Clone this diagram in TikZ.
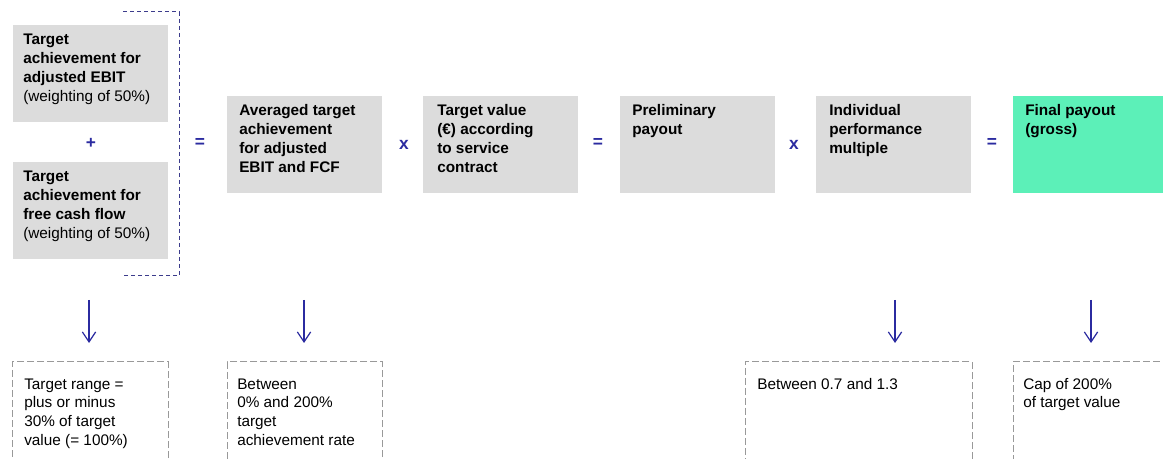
\documentclass[tikz,border=0pt]{standalone}
\usepackage{fontspec}
\setmainfont{Liberation Sans}
\usetikzlibrary{arrows.meta}
\definecolor{boxgray}{HTML}{DCDCDC}
\definecolor{finalgreen}{HTML}{5CF0B8}
\definecolor{opblue}{HTML}{2B2BA0}
\definecolor{dashgray}{HTML}{999999}
\definecolor{bracketblue}{HTML}{3C3C8C}
\begin{document}
\begin{tikzpicture}[x=0.75pt,y=-0.75pt,
  gbox/.style={fill=boxgray, draw=none, inner sep=0pt, outer sep=0pt, anchor=north west,
    minimum width=116.25pt, minimum height=72.75pt},
  fbox/.style={gbox, fill=finalgreen},
  dbox/.style={draw=dashgray, line width=0.75pt, dash pattern=on 5pt off 2.5pt, inner sep=0pt,
    outer sep=0pt, anchor=north west, minimum height=90pt},
  btext/.style={anchor=base west, inner sep=0pt, align=left, text=black,
    font=\fontsize{11.5}{14.25}\selectfont\bfseries},
  rtext/.style={anchor=base west, inner sep=0pt, align=left, text=black,
    font=\fontsize{11.5}{14}\selectfont},
  op/.style={text=opblue, inner sep=0pt, font=\fontsize{13}{15}\selectfont\bfseries},
  arr/.style={draw=opblue, line width=0.9pt, -{Straight Barb[length=7.5pt,width=10pt]}},
  bracket/.style={draw=bracketblue, line width=0.75pt, dash pattern=on 3pt off 2.25pt}
]
\useasboundingbox (0,0) rectangle (1163,459);
\clip (0,0) rectangle (1163,459);

% top row boxes
\node[gbox] (b1) at (13,25) {};
\node[gbox] (b2) at (13,162) {};
\node[gbox] (b3) at (227,96) {};
\node[gbox] (b4) at (423,96) {};
\node[gbox] (b5) at (620,96) {};
\node[gbox] (b6) at (816,96) {};
\node[fbox] (b7) at (1013,96) {};

% texts (anchor = baseline of the last line)
\node[btext] (t1) at (23,102) {Target\\achievement for\\adjusted EBIT\\{\mdseries (weighting of 50\%)}};
\node[btext] (t2) at (23,239) {Target\\achievement for\\free cash flow\\{\mdseries (weighting of 50\%)}};
\node[btext] (t3) at (239,173) {Averaged target\\achievement\\for adjusted\\EBIT and FCF};
\node[btext] (t4) at (437,173) {Target value\\(€) according\\to service\\contract};
\node[btext] (t5) at (632,135) {Preliminary\\payout};
\node[btext] (t6) at (829,154) {Individual\\performance\\multiple};
\node[btext] (t7) at (1025,135) {Final payout\\(gross)};

% operators
\node[op] (plus) at (91,143) {+};
\node[op] (eq1) at (200,143) {=};
\node[op] (x1) at (404,145) {x};
\node[op] (eq2) at (598,143) {=};
\node[op] (x2) at (794,145) {x};
\node[op] (eq3) at (992,143) {=};

% bracket
\coordinate (br1) at (123,12);
\coordinate (br2) at (179,12);
\coordinate (br3) at (179,276);
\coordinate (br4) at (123,276);
\draw[bracket] (br1) -- (br2) -- (br3) -- (br4);

% arrows
\coordinate (a1s) at (89,300);  \coordinate (a1e) at (89,343);
\coordinate (a2s) at (304,300); \coordinate (a2e) at (304,343);
\coordinate (a3s) at (895,300); \coordinate (a3e) at (895,343);
\coordinate (a4s) at (1091,300);\coordinate (a4e) at (1091,343);
\draw[arr] (a1s) -- (a1e);
\draw[arr] (a2s) -- (a2e);
\draw[arr] (a3s) -- (a3e);
\draw[arr] (a4s) -- (a4e);

% dashed boxes
\node[dbox, minimum width=117pt] (d1) at (12,362) {};
\node[dbox, minimum width=116.25pt] (d2) at (227,362) {};
\node[dbox, minimum width=170.25pt] (d3) at (745,362) {};
\node[dbox, minimum width=130pt] (d4) at (1013,362) {};

\node[rtext] (s1) at (24,445) {Target range =\\plus or minus\\30\% of target\\value (= 100\%)};
\node[rtext] (s2) at (237,445) {Between\\0\% and 200\%\\target\\achievement rate};
\node[rtext] (s3) at (757,389) {Between 0.7 and 1.3};
\node[rtext] (s4) at (1023,407.7) {Cap of 200\%\\of target value};
\end{tikzpicture}
\end{document}
